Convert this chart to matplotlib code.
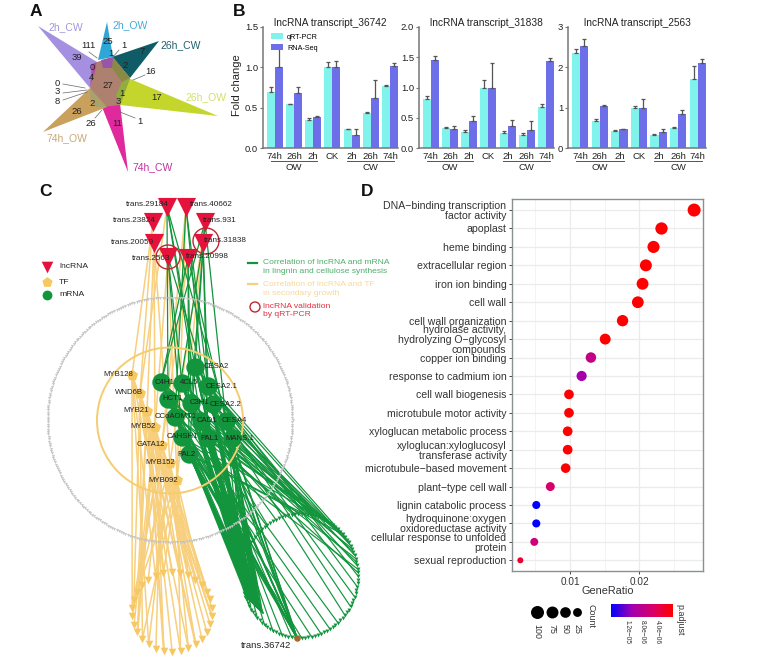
import numpy as np
import matplotlib
matplotlib.use("Agg")
import matplotlib.pyplot as plt
from matplotlib.cm import ScalarMappable
from matplotlib.colors import LinearSegmentedColormap, Normalize
from matplotlib.patches import Circle, Polygon

plt.rcParams['font.family'] = ['Liberation Sans', 'DejaVu Sans']

# ---------- Panel A ----------
venn_names = ['2h_CW', '2h_OW', '26h_CW', '26h_OW', '74h_CW', '74h_OW']
venn_colors = ['#a58fe0', '#2ea6d6', '#0f5c66', '#c4d62c', '#e0299c', '#c9a05c']
venn_text_colors = ['#a596dc', '#45aad8', '#22606a', '#d3de6c', '#c332a0', '#c9a878']
venn_tips = [(38, 26), (107, 22), (159, 41), (218, 116), (128, 172), (43, 132)]
venn_bases = [[(97, 62), (90, 88)], [(98, 60), (113, 57)], [(112, 57), (130, 78)],
              [(128, 78), (120, 105)], [(102, 107), (120, 103)], [(90, 88), (107, 107)]]
venn_core = [(97, 62), (113, 57), (130, 78), (120, 105), (102, 107), (90, 88)]
venn_label_pos = [(48, 27), (112, 25), (160, 45), (185, 97), (132, 167), (46, 138)]
venn_numbers = ['39', '111', '25', '1', '7', '1', '0', '2', '16', '4', '27', '0', '3', '8',
                '1', '17', '3', '2', '26', '26', '11', '1']
venn_number_pos = [(77, 57), (88, 45), (108, 42), (124, 45), (142, 52), (111, 53), (92, 67),
                   (125, 65), (151, 72), (91, 77), (108, 86), (57, 83), (57, 92), (57, 101),
                   (122, 93), (157, 98), (118, 101), (92, 103), (77, 112), (91, 123), (117, 123),
                   (140, 122)]
venn_leaders = [((63, 84), (85, 88)), ((63, 93), (87, 90)), ((63, 100), (87, 92)),
                ((89, 52), (97, 58)), ((119, 50), (113, 57)), ((145, 75), (133, 80)),
                ((95, 118), (102, 110)), ((135, 118), (120, 112))]

# ---------- Panel B ----------
groups = ['74h', '26h', '2h', 'CK', '2h', '26h', '74h']
titles = ['lncRNA transcript_36742', 'lncRNA transcript_31838', 'lncRNA transcript_2563']
qpcr = [[.70, .54, .35, 1.0, .23, .44, .77],
        [.81, .33, .27, 1.0, .25, .21, .67],
        [2.36, .68, .42, 1.0, .33, .50, 1.72]]
qpcr_err = [[.06, .01, .02, .06, .01, .01, .01],
            [.05, .02, .02, .12, .03, .04, .06],
            [.10, .03, .03, .05, .01, .02, .32]]
rnaseq = [[1.0, .68, .39, 1.0, .16, .62, 1.02],
          [1.45, .32, .44, 1.0, .37, .30, 1.44],
          [2.52, 1.05, .46, 1.0, .39, .84, 2.10]]
rnaseq_err = [[.24, .08, .01, .08, .07, .22, .03],
              [.07, .05, .09, .40, .10, .15, .04],
              [.18, .01, .02, .22, .07, .09, .10]]
y_limits = [1.5, 2.0, 3.0]
y_ticks = [[0, .5, 1, 1.5], [0, .5, 1, 1.5, 2], [0, 1, 2, 3]]
y_ticklabels = [['0.0', '0.5', '1.0', '1.5'], ['0.0', '0.5', '1.0', '1.5', '2.0'], ['0', '1', '2', '3']]

# ---------- Panel C ----------
lnc_names = ['trans.29184', 'trans.40662', 'trans.23824', 'trans.931', 'trans.20059',
             'trans.31838', 'trans.2563', 'trans.20998']
lnc_pos = [(167, 207), (186, 207), (153, 222), (205, 222), (154, 243), (203, 243), (168, 257), (188, 258)]
lnc_label_x = [126, 190, 113, 203, 111, 204, 132, 186]
lnc_label_y = [205, 205, 221, 220, 243, 241, 258, 257]
tf_names = ['MYB128', 'WND6B', 'MYB21', 'MYB52', 'GATA12', 'MYB152', 'MYB092']
tf_pos = [(132, 375), (140, 393), (147, 411), (155, 427), (162, 445), (170, 463), (177, 480)]
tf_label_x = [118, 130, 138, 145, 152, 160, 163]
mrna_names = ['CESA2', 'C4H1', '4CL5', 'CESA2.1', 'HCT1', 'C3H1', 'CESA2.2', 'CCoAOMT1',
              'CAD1', 'CESA4', 'CAHSH1', 'PAL1', 'MANS.1', 'PAL2']
mrna_pos = [(195, 367), (161, 382), (182, 383), (208, 386), (168, 399), (191, 403), (213, 404),
            (175, 417), (201, 421), (226, 421), (182, 437), (208, 438), (232, 438), (189, 454)]
mrna_label_x = [204, 155, 180, 206, 162, 190, 210, 155, 197, 222, 167, 200, 225, 177]
hub_name = 'trans.36742'
hub_pos = (297, 638)
validated = [(168, 257, 12), (206, 241, 13)]

# ---------- Panel D ----------
go_terms = ['DNA\u2212binding transcription\nfactor activity', 'apoplast', 'heme binding',
            'extracellular region', 'iron ion binding', 'cell wall', 'cell wall organization',
            'hydrolase activity,\nhydrolyzing O\u2212glycosyl\ncompounds', 'copper ion binding',
            'response to cadmium ion', 'cell wall biogenesis', 'microtubule motor activity',
            'xyloglucan metabolic process', 'xyloglucan:xyloglucosyl\ntransferase activity',
            'microtubule\u2212based movement', 'plant\u2212type cell wall', 'lignin catabolic process',
            'hydroquinone:oxygen\noxidoreductase activity', 'cellular response to unfolded\nprotein',
            'sexual reproduction']
gene_ratio = [.02789, .02319, .02204, .02094, .02046, .01978, .01758, .01508, .01302, .01168,
              .00986, .00986, .00967, .00967, .00938, .00717, .00515, .00515, .00486, .00285]
counts = [100, 83, 79, 75, 73, 71, 63, 54, 47, 42, 35, 35, 35, 35, 34, 26, 18, 18, 17, 10]
p_adjust = [1e-8, 1e-8, 1e-8, 1e-8, 1e-8, 1e-8, 1e-8, 1e-8, 7.5e-6, 1.05e-5, 1e-8, 1e-8, 1e-8,
            1e-8, 1e-8, 5.5e-6, 1.62e-5, 1.62e-5, 6.5e-6, 2.5e-6]
legend_counts = [100, 75, 50, 25]
cbar_ticks = [1.2e-5, 8e-6, 4e-6]
cbar_labels = ['1.2e\u221205', '8.0e\u221206', '4.0e\u221206']

W, H = 766, 666
fig = plt.figure(figsize=(W / 100, H / 100), dpi=100, facecolor='white')


def px_axes(l, t, r, b, **kw):
    return fig.add_axes([l / W, 1 - b / H, (r - l) / W, (b - t) / H], **kw)


canvas = px_axes(0, 0, W, H)
canvas.set_xlim(0, W)
canvas.set_ylim(H, 0)
canvas.axis('off')

for s, x, y in zip('ABCD', [36, 239, 46, 367], [11, 11, 192, 192]):
    canvas.text(x, y, s, fontsize=12.5, fontweight='bold', ha='center', va='center', color='#111111')

# ---- A ----
for tip, base, col in zip(venn_tips, venn_bases, venn_colors):
    canvas.add_patch(Polygon([tip, base[0], base[1]], closed=True, fc=col, ec='none', zorder=2))
canvas.add_patch(Polygon(venn_core, closed=True, fc='#ad806f', ec='none', zorder=3))
canvas.add_patch(Polygon([(112, 57), (130, 78), (122, 82), (112, 68)], fc='#8a8a45', ec='none', zorder=3.1))
canvas.add_patch(Polygon([(101, 60), (113, 57), (112, 68), (103, 68)], fc='#9a55a5', ec='none', zorder=3.1))
canvas.add_patch(Polygon([(130, 78), (120, 105), (116, 95), (122, 82)], fc='#8fae3f', ec='none', zorder=3.1))
canvas.add_patch(Polygon([(90, 88), (107, 107), (96, 107), (90, 98)], fc='#aaa26a', ec='none', zorder=3.1))
canvas.add_patch(Polygon([(90, 88), (95, 72), (97, 62), (92, 64)], fc='#b04fa0', ec='none', zorder=3.1))
for (p, q) in venn_leaders:
    canvas.plot([p[0], q[0]], [p[1], q[1]], color='#666666', lw=0.5, zorder=4)
for name, (x, y), col in zip(venn_names, venn_label_pos, venn_text_colors):
    canvas.text(x, y, name, color=col, fontsize=7.5, va='center', ha='left', zorder=5)
for num, (x, y) in zip(venn_numbers, venn_number_pos):
    canvas.text(x, y, num, color='#222222', fontsize=6.8, va='center', ha='center', zorder=5)

# ---- B ----
bar_col_a, bar_col_b = '#7ff3ec', '#6d6fe8'
axes_px = [(263, 398), (419, 554), (568, 706)]
for i, (l, r) in enumerate(axes_px):
    ax = px_axes(l, 27, r, 148)
    ax.patch.set_alpha(0)
    x = np.arange(7)
    w = 0.42
    ekw = dict(ecolor='#555555', elinewidth=0.9, capsize=1.2, capthick=0.9)
    ax.bar(x - w / 2, qpcr[i], w, color=bar_col_a, yerr=[np.zeros(7), qpcr_err[i]], error_kw=ekw, label='qRT-PCR')
    ax.bar(x + w / 2, rnaseq[i], w, color=bar_col_b, yerr=[np.zeros(7), rnaseq_err[i]], error_kw=ekw, label='RNA-Seq')
    ax.set_xlim(-0.62, 6.42)
    ax.set_ylim(0, y_limits[i])
    ax.set_xticks(x, groups)
    ax.set_yticks(y_ticks[i], y_ticklabels[i])
    ax.tick_params(axis='x', length=0, labelsize=6.8, pad=3, labelcolor='#222222')
    ax.tick_params(axis='y', length=2, width=0.8, labelsize=6.8, pad=1.5, color='#777777', labelcolor='#222222')
    for s in ('top', 'right'):
        ax.spines[s].set_visible(False)
    for s in ('left', 'bottom'):
        ax.spines[s].set_color('#777777')
        ax.spines[s].set_linewidth(1.1)
    ax.text(0.5, (148 - 23) / 121, titles[i], transform=ax.transAxes, ha='center', va='center',
            fontsize=7.3, color='#222222')
    tr = ax.get_xaxis_transform()
    for x0, x1, lab in ((-0.22, 2.22, 'OW'), (3.78, 6.22, 'CW')):
        ax.plot([x0, x1], [-13 / 121, -13 / 121], transform=tr, color='#555555', lw=0.7, clip_on=False)
        ax.text((x0 + x1) / 2, -19.5 / 121, lab, transform=tr, ha='center', va='center', fontsize=6.8,
                color='#222222')
    if i == 0:
        ax.set_ylabel('Fold change', fontsize=8, color='#222222')
        ax.yaxis.set_label_coords((242 - 263) / 135, 0.52)
        h, lb = ax.get_legend_handles_labels()
        ax.legend(h, lb, loc='upper left', bbox_to_anchor=(0.06, 0.95), frameon=False, fontsize=5.2,
                  handlelength=1.7, handleheight=0.9, labelspacing=0.5, handletextpad=0.5, borderpad=0, borderaxespad=0)

# ---- C ----
GREEN, YELLOW, RED = '#12953c', '#f8cf7c', '#e5133c'
gray_ring = (170, 420, 122.5)
tf_ring = (172, 612, 40)
mrna_ring = (300, 576, 58, 62)

ang = np.linspace(0, 2 * np.pi, 320, endpoint=False)
gx, gy = gray_ring[0] + gray_ring[2] * np.cos(ang), gray_ring[1] + gray_ring[2] * np.sin(ang)

ang_t = np.linspace(0, 2 * np.pi, 30, endpoint=False) + 0.1
tx, ty = tf_ring[0] + tf_ring[2] * np.cos(ang_t), tf_ring[1] + tf_ring[2] * np.sin(ang_t)

ang_m = np.linspace(0, 2 * np.pi, 110, endpoint=False)
mx, my = mrna_ring[0] + mrna_ring[2] * np.cos(ang_m), mrna_ring[1] + mrna_ring[3] * np.sin(ang_m)

# lncRNA -> TF edges (yellow), sparse
for k, j in ((2, 0), (2, 1), (4, 2), (4, 3), (4, 5), (1, 6), (1, 4), (3, 5), (6, 3), (6, 6), (0, 1), (7, 4), (5, 6)):
    lx, ly = lnc_pos[k]
    fx, fy = tf_pos[j]
    canvas.plot([lx, fx], [ly, fy], color=YELLOW, lw=1.1, zorder=2)
# TF -> ring edges (yellow)
for j, (fx, fy) in enumerate(tf_pos):
    for a in range(j, len(tx), 5):
        canvas.plot([fx, tx[a]], [fy, ty[a]], color=YELLOW, lw=1.1, zorder=2)
    canvas.plot([fx, tx[(j * 4) % 30]], [fy, ty[(j * 4) % 30]], color=YELLOW, lw=1.5, zorder=2)

# lncRNA -> mRNA edges (green)
for k in (0, 1, 3, 5, 6, 7):
    lx, ly = lnc_pos[k]
    for j in range(14):
        if (j + k) % 4 == 0:
            canvas.plot([lx, mrna_pos[j][0]], [ly, mrna_pos[j][1]], color=GREEN, lw=0.9, zorder=2)
# mRNA -> ring edges (green): sparse all round, dense on the upper right arc
for a in range(len(mx)):
    deg = np.degrees(ang_m[a])
    upper_right = 270 <= deg <= 360
    if upper_right or a % 3 == 0:
        m = mrna_pos[a % 14]
        canvas.plot([m[0], mx[a]], [m[1], my[a]], color=GREEN, lw=0.85, zorder=2)
# mRNA -> hub and dense left bundle
for j, m in enumerate(mrna_pos):
    canvas.plot([m[0], hub_pos[0]], [m[1], hub_pos[1]], color=GREEN, lw=1.0, zorder=2)
    for q in range(3):
        canvas.plot([m[0], 246 + j + 2 * q], [m[1], 596 + j + 2 * q], color=GREEN, lw=1.3, zorder=2)

canvas.scatter(gx, gy, s=5, marker='v', color='#c4c4c4', linewidths=0, alpha=0.9, zorder=3)
canvas.add_patch(Circle((170, 420.5), 73, fc='none', ec='#f6cc70', lw=1.4, zorder=3))
canvas.scatter(tx, ty, s=30, marker='v', color='#f6c862', linewidths=0, zorder=4)
canvas.scatter(mx, my, s=8, marker='v', color=GREEN, linewidths=0, zorder=4)
canvas.scatter(*zip(*tf_pos), s=70, marker='p', color='#f6c862', linewidths=0, zorder=4)
canvas.scatter(*zip(*mrna_pos), s=175, marker='o', color=GREEN, linewidths=0, zorder=4)
canvas.scatter(*hub_pos, s=22, marker='o', color='#a8662c', linewidths=0, zorder=5)
canvas.scatter(*zip(*lnc_pos), s=190, marker='v', color=RED, linewidths=0, zorder=5)
for x, y, r in validated:
    canvas.add_patch(Circle((x, y), r, fc='none', ec='#c2252f', lw=1.0, zorder=6))

TXT = dict(fontsize=5.9, color='#222222', va='center', ha='left', zorder=7)
for n, x, y in zip(lnc_names, lnc_label_x, lnc_label_y):
    canvas.text(x, y, n, **TXT)
for n, x, (_, y) in zip(tf_names, tf_label_x, tf_pos):
    canvas.text(x - 15, y, n, **{**TXT, 'fontsize': 5.6})
for n, x, (_, y) in zip(mrna_names, mrna_label_x, mrna_pos):
    canvas.text(x, y, n, **{**TXT, 'fontsize': 5.6})
canvas.text(241, 645, hub_name, **{**TXT, 'fontsize': 6.8})

canvas.scatter([47], [267], s=70, marker='v', color=RED, linewidths=0, zorder=5)
canvas.scatter([47], [282], s=60, marker='p', color='#f6c862', linewidths=0, zorder=5)
canvas.scatter([47], [295], s=50, marker='o', color=GREEN, linewidths=0, zorder=5)
for y, lab in zip((267, 282, 295), ('lncRNA', 'TF', 'mRNA')):
    canvas.text(59, y, lab, fontsize=6.1, color='#222222', va='center', ha='left')
canvas.plot([248, 257], [263, 263], color=GREEN, lw=1.6)
canvas.text(263, 267, 'Correlation of lncRNA and mRNA\nin lingnin and cellulose synthesis', fontsize=6.1,
            color='#4caf6a', va='center', ha='left', linespacing=1.25)
canvas.plot([248, 257], [284, 284], color=YELLOW, lw=1.6)
canvas.text(263, 289, 'Correlation of lncRNA and TF\nin secondary growth', fontsize=6.1,
            color='#f8d898', va='center', ha='left', linespacing=1.25)
canvas.add_patch(Circle((255, 307), 5, fc='none', ec='#c2252f', lw=1.0))
canvas.text(263, 310.5, 'lncRNA validation\nby qRT-PCR', fontsize=6.1, color='#e0313f', va='center', ha='left',
            linespacing=1.25)

# ---- D ----
cmap = LinearSegmentedColormap.from_list('padj', ['#ff0000', '#d8006a', '#a000b0', '#0000ff'])
norm = Normalize(0, 1.63e-5)


def dot_size(c):
    d = 6 + 7 * np.sqrt((np.asarray(c, float) - 10) / 90)
    return (d * 0.72) ** 2


axd = px_axes(512, 199, 703, 571)
axd.patch.set_alpha(0)
axd.set_xlim(0.00165, 0.02917)
axd.set_ylim(19.58, -0.6)
axd.set_axisbelow(True)
axd.set_xticks([.01, .02], ['0.01', '0.02'])
axd.set_xticks([.005, .015, .025], minor=True)
axd.set_yticks(range(20), go_terms)
axd.grid(True, which='major', color='#ebebeb', lw=0.9)
axd.grid(True, which='minor', axis='x', color='#f1f1f1', lw=0.6)
axd.tick_params(which='minor', length=0)
axd.tick_params(axis='x', which='major', length=2, width=0.7, color='#444444', labelsize=7.2, pad=2, labelcolor='#333333')
axd.tick_params(axis='y', which='major', length=2, width=0.7, color='#444444', labelsize=7.6, pad=2, labelcolor='#333333')
for lab in axd.get_yticklabels():
    lab.set_linespacing(0.98)
    lab.set_ha('right')
for s in axd.spines.values():
    s.set_color('#8a8f92')
    s.set_linewidth(1.0)
axd.scatter(gene_ratio, range(20), s=dot_size(counts), c=p_adjust, cmap=cmap, norm=norm, linewidths=0, zorder=3,
            clip_on=False)
axd.set_xlabel('GeneRatio', fontsize=7.8, color='#333333', labelpad=-0.5)

# legends under D
for x, c in zip((537, 552, 565, 577), legend_counts):
    canvas.scatter([x], [612], s=dot_size(c), color='black', linewidths=0)
    canvas.text(x, 624, str(c), rotation=270, fontsize=6.4, color='#333333', ha='center', va='top')
canvas.text(591, 604, 'Count', rotation=270, fontsize=6.4, color='#333333', ha='center', va='top')

cax = px_axes(611, 604, 673, 617)
cb = fig.colorbar(ScalarMappable(norm=norm, cmap=cmap), cax=cax, orientation='horizontal')
cax.invert_xaxis()
cb.outline.set_visible(False)
cb.set_ticks(cbar_ticks, labels=cbar_labels)
cax.tick_params(length=0, labelsize=4.8, labelcolor='#333333', pad=2)
for lab in cax.get_xticklabels():
    lab.set_rotation(270)
canvas.text(680, 604, 'p.adjust', rotation=270, fontsize=6.4, color='#333333', ha='center', va='top')

fig.savefig('out.png', dpi=100)
